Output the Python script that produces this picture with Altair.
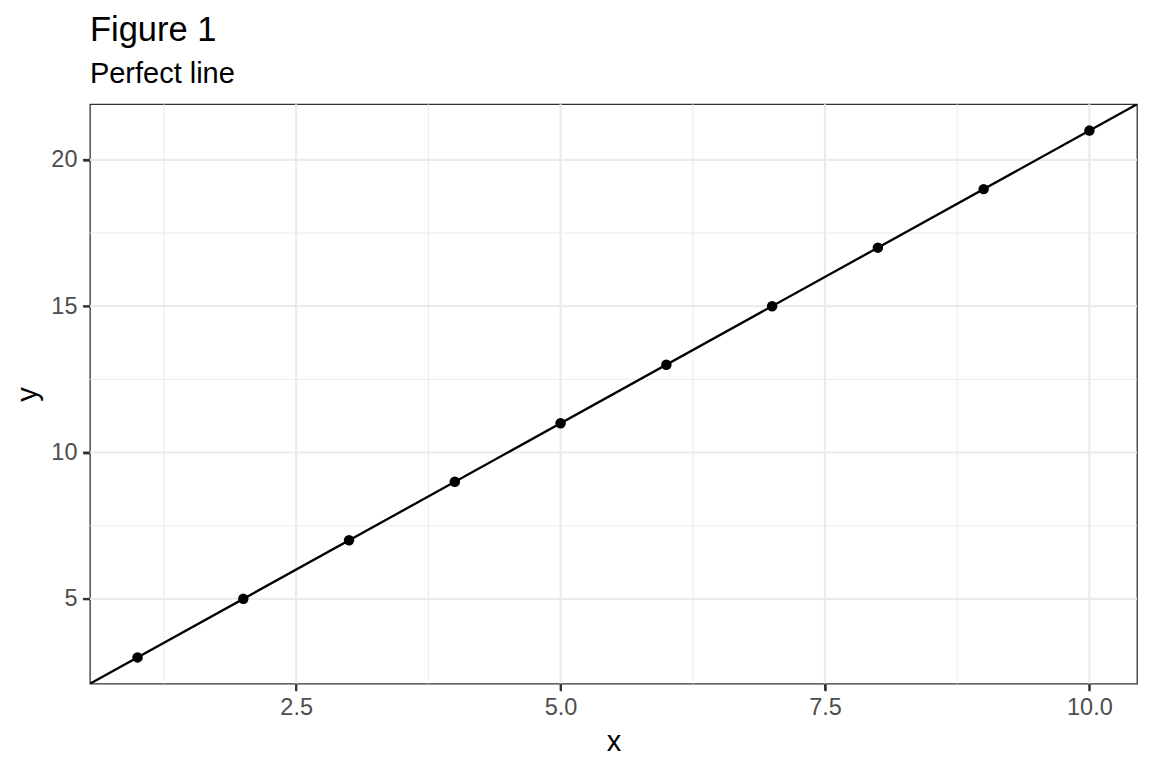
import altair as alt
import pandas as pd

xs = [1, 2, 3, 4, 5, 6, 7, 8, 9, 10]
ys = [3, 5, 7, 9, 11, 13, 15, 17, 19, 21]
slope = 2
intercept = 1
x_domain = [0.55, 10.45]
y_domain = [2.1, 21.9]
x_major = [2.5, 5.0, 7.5, 10.0]
x_minor = [1.25, 3.75, 6.25, 8.75]
y_major = [5, 10, 15, 20]
y_minor = [7.5, 12.5, 17.5]

pts = pd.DataFrame({"x": xs, "y": ys})
line_df = pd.DataFrame({"x": x_domain, "y": [slope * v + intercept for v in x_domain]})
xminor_df = pd.DataFrame({"x": x_minor})
yminor_df = pd.DataFrame({"y": y_minor})
xmajor_df = pd.DataFrame({"x": x_major})
ymajor_df = pd.DataFrame({"y": y_major})

font = "Liberation Sans"
tick_len = 7
xscale = alt.Scale(domain=x_domain, nice=False, zero=False)
yscale = alt.Scale(domain=y_domain, nice=False, zero=False)

xaxis = alt.Axis(values=x_major, format=".1f", labelPadding=5, titlePadding=8,
                 ticks=True, tickSize=tick_len, tickWidth=2, tickColor="#333333", tickOpacity=1)
yaxis = alt.Axis(values=y_major, format="d", labelPadding=6, titlePadding=8,
                 ticks=True, tickSize=tick_len, tickWidth=2, tickColor="#333333", tickOpacity=1)

def X():
    return alt.X("x:Q", scale=xscale, axis=xaxis, title="x")

def Y():
    return alt.Y("y:Q", scale=yscale, axis=yaxis, title="y")

gx_minor = alt.Chart(xminor_df).mark_rule(color="#EBEBEB", strokeWidth=1).encode(x=X())
gy_minor = alt.Chart(yminor_df).mark_rule(color="#EBEBEB", strokeWidth=1).encode(y=Y())
gx_major = alt.Chart(xmajor_df).mark_rule(color="#EBEBEB", strokeWidth=2.2).encode(x=X())
gy_major = alt.Chart(ymajor_df).mark_rule(color="#EBEBEB", strokeWidth=2.2).encode(y=Y())

# tick marks drawn just outside the panel
xticks = alt.Chart(xmajor_df).mark_rule(color="#333333", strokeWidth=2, clip=False, opacity=1).encode(
    x=X(), y=alt.value(580), y2=alt.value(580 + tick_len))
yticks = alt.Chart(ymajor_df).mark_rule(color="#333333", strokeWidth=2, clip=False, opacity=1).encode(
    y=Y(), x=alt.value(-tick_len), x2=alt.value(0))

line = alt.Chart(line_df).mark_line(color="black", strokeWidth=2.3, clip=True).encode(x=X(), y=Y())
points = alt.Chart(pts).mark_circle(color="black", size=110, opacity=1).encode(x=X(), y=Y())

chart = alt.layer(gx_minor, gy_minor, gx_major, gy_major, xticks, yticks, line, points).properties(
    width=1048, height=580,
    title=alt.TitleParams(text="Figure 1", subtitle="Perfect line", anchor="start", frame="group",
                          font=font, fontSize=34.5, fontWeight="normal", color="black",
                          subtitleFont=font, subtitleFontSize=29, subtitleColor="black",
                          subtitlePadding=12, offset=13),
    padding={"left": 5, "top": 4, "right": 5, "bottom": 0}
).configure(background="white").configure_view(
    stroke="#333333", strokeWidth=1.3
).configure_axis(
    grid=False, domain=False, zindex=1,
    labelColor="#4D4D4D", labelFontSize=23.5, labelFont=font,
    titleFontSize=29, titleFont=font, titleFontWeight="normal", titleColor="black"
)

chart.save("out.html", embed_options={"renderer": "svg", "actions": False})
